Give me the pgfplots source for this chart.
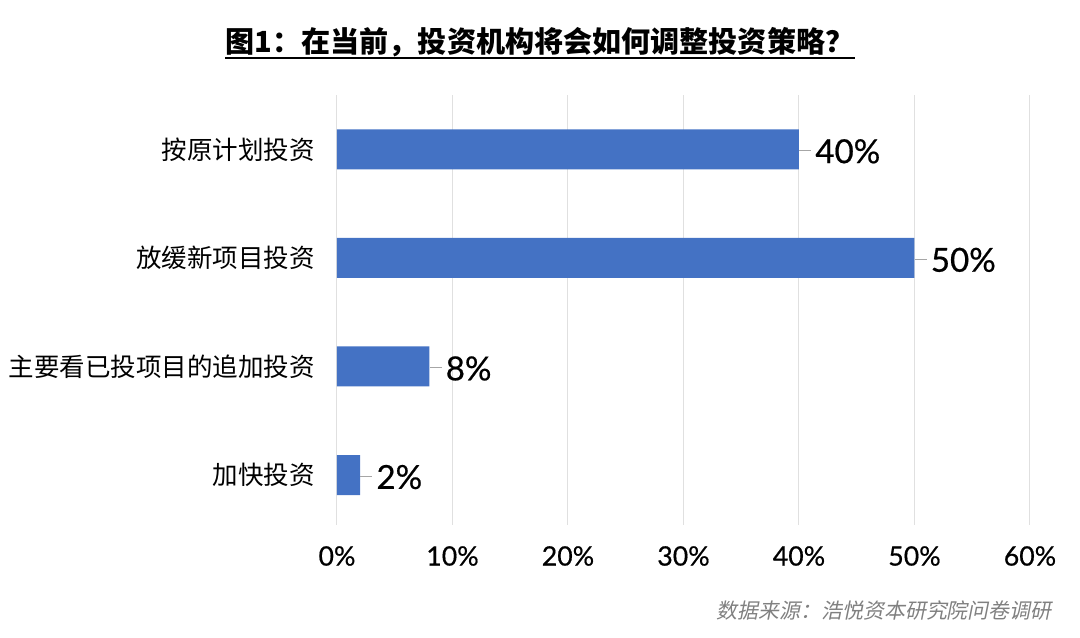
\documentclass[border=0pt]{standalone}
\usepackage{pgfplots}
\pgfplotsset{compat=1.18}
\usepackage{fontspec}
\setmainfont[FakeBold=0.6]{Lato}
\newfontfamily\cjk{Noto Sans CJK SC}
\newfontfamily\cjkit[FakeSlant=0.2]{Noto Sans CJK SC}
\definecolor{barblue}{HTML}{4472C4}
\definecolor{gridgray}{HTML}{E0E0E0}
\definecolor{srcgray}{HTML}{808080}
\begin{document}
\begin{tikzpicture}
\useasboundingbox (-168.5bp,-56.5bp) rectangle (371.5bp,262.5bp);
\begin{axis}[
  at={(0,0)}, anchor=south west,
  scale only axis, width=346.5bp, height=215bp,
  xbar, bar width=20bp,
  xmin=0, xmax=60, ymin=-0.46, ymax=3.5,
  xtick={0,10,...,60},
  xticklabel={\pgfmathprintnumber{\tick}\%},
  xticklabel style={anchor=center, inner sep=0pt, yshift=-15.5bp, font=\fontsize{13.4}{16}\selectfont},
  ytick={0,1,2,3},
  yticklabels={加快投资,主要看已投项目的追加投资,放缓新项目投资,按原计划投资},
  yticklabel style={anchor=east, inner sep=0pt, xshift=-11bp, font=\cjk\fontsize{12.8}{15}\selectfont},
  axis line style={draw=none},
  major tick length=0pt,
  xmajorgrids, grid style={color=gridgray, line width=0.5bp},
  /pgf/number format/assume math mode=true,
  nodes near coords={\textcolor{gray!70}{\rule[0.36em]{6bp}{0.5pt}}\hspace{2bp}\pgfmathprintnumber{\pgfplotspointmeta}\%},
  nodes near coords style={anchor=west, inner sep=0pt, yshift=-1bp, font=\fontsize{16.6}{19}\selectfont},
  point meta=x,
]
\addplot[draw=none, fill=barblue] coordinates {(2,0) (8,1) (50,2) (40,3)};
\end{axis}
\node[font=\cjk\bfseries\fontsize{14.6}{17}\selectfont, inner sep=0pt, anchor=base] (t) at (101.5bp,236bp) {图1：在当前，投资机构将会如何调整投资策略？\hspace{7bp}};
\draw[line width=1bp] ([yshift=-2.6bp]t.base west) -- ([yshift=-2.6bp]t.base east);
\node[font=\cjkit\fontsize{10.5}{13}\selectfont, text=srcgray, inner sep=0pt, anchor=east] at (357.5bp,-43bp) {数据来源：浩悦资本研究院问卷调研};
\end{tikzpicture}
\end{document}
